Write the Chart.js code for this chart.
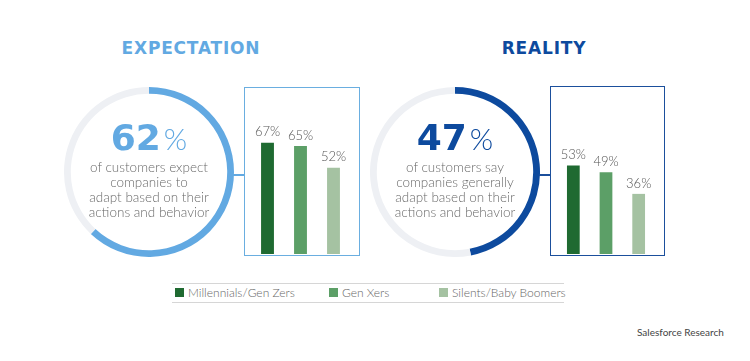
<!DOCTYPE html>
<html>
<head>
<meta charset="utf-8">
<script src="https://cdn.jsdelivr.net/npm/chart.js@4"></script>
<style>
  body { margin: 0; background: #fff; }
  #page { position: relative; width: 750px; height: 361px; overflow: hidden; font-family: Lato, "Open Sans", sans-serif; }
  .abs { position: absolute; }
  .title { font-family: "DejaVu Sans", sans-serif; font-weight: bold; font-size: 17px; letter-spacing: 0.8px; text-align: center; width: 200px; }
  .center { text-align: center; width: 170px; color: #6a6a6a; font-size: 13.5px; font-weight: 300; line-height: 15px; }
  .big { font-family: "DejaVu Sans", sans-serif; font-weight: bold; font-size: 36px; line-height: 38px; margin-bottom: 3px; }
  .big span { font-family: Lato, sans-serif; font-weight: 300; font-size: 30px; margin-left: 3px; }
  .box { box-sizing: border-box; border: 1.5px solid; }
  .legend { font-size: 12px; color: #666; font-weight: 300; }
  .sw { width: 9px; height: 9px; }
</style>
</head>
<body>
<div id="page">
  <div class="abs title" style="left:91px; top:38px; color:#62a9e2;">EXPECTATION</div>
  <div class="abs title" style="left:444px; top:38px; color:#0d4a9e;">REALITY</div>

  <canvas id="donut1" class="abs" width="170" height="170" style="left:64px; top:87px;"></canvas>
  <canvas id="donut2" class="abs" width="170" height="170" style="left:370px; top:87px;"></canvas>

  <div class="abs center" style="left:64px; top:119px;">
    <div class="big" style="color:#62a9e2;">62<span>%</span></div>
    <div>of customers expect<br>companies to<br>adapt based on their<br>actions and behavior</div>
  </div>
  <div class="abs center" style="left:370px; top:119px;">
    <div class="big" style="color:#0d4a9e;">47<span>%</span></div>
    <div>of customers say<br>companies generally<br>adapt based on their<br>actions and behavior</div>
  </div>

  <div class="abs" style="left:233px; top:174px; width:11px; height:1.5px; background:#62a9e2;"></div>
  <div class="abs" style="left:539px; top:174px; width:11px; height:1.5px; background:#1b4f9c;"></div>

  <div class="abs box" style="left:244px; top:87px; width:116px; height:169px; border-color:#6aaee0;">
    <canvas id="bars1" width="113" height="166"></canvas>
  </div>
  <div class="abs box" style="left:550px; top:86px; width:115px; height:170px; border-color:#1b4f9c;">
    <canvas id="bars2" width="112" height="167"></canvas>
  </div>

  <div class="abs" style="left:172px; top:283px; width:392px; height:1px; background:#d6d6d6;"></div>
  <div class="abs" style="left:172px; top:302px; width:392px; height:1px; background:#d6d6d6;"></div>
  <div id="legend"></div>

  <div class="abs" style="left:637px; top:326px; font-size:10px; color:#444;">Salesforce Research</div>
</div>
<script>
var generations = ['Millennials/Gen Zers', 'Gen Xers', 'Silents/Baby Boomers'];
var genColors = ['#1f6a31', '#5c9f67', '#a5c2a2'];
var expectationValues = [67, 65, 52];
var realityValues = [53, 49, 36];
var expectationShare = [62, 38];
var realityShare = [47, 53];

function makeDonut(id, values, color) {
  new Chart(document.getElementById(id), {
    type: 'doughnut',
    data: {
      labels: ['yes', 'rest'],
      datasets: [{ data: values, backgroundColor: [color, '#eef0f4'], borderWidth: 0, hoverOffset: 0 }]
    },
    options: {
      responsive: false,
      animation: false,
      events: [],
      cutout: '92%',
      plugins: { legend: { display: false }, tooltip: { enabled: false } }
    }
  });
}

// draws "67%" above each bar
var valueLabels = {
  id: 'valueLabels',
  afterDatasetsDraw(chart) {
    var ctx = chart.ctx;
    var meta = chart.getDatasetMeta(0);
    ctx.save();
    ctx.font = '300 13px Lato';
    ctx.fillStyle = '#555';
    ctx.textAlign = 'center';
    ctx.textBaseline = 'bottom';
    meta.data.forEach(function (bar, i) {
      ctx.fillText(chart.data.datasets[0].data[i] + '%', bar.x, bar.y - 4);
    });
    ctx.restore();
  }
};

function makeBars(id, values) {
  new Chart(document.getElementById(id), {
    type: 'bar',
    data: {
      labels: generations,
      datasets: [{ data: values, backgroundColor: genColors, barPercentage: 0.39, categoryPercentage: 1 }]
    },
    options: {
      responsive: false,
      animation: false,
      events: [],
      layout: { padding: { left: 6, right: 8, top: 0, bottom: 0 } },
      scales: {
        x: { display: false },
        y: { display: false, min: 0, max: 100 }
      },
      plugins: { legend: { display: false }, tooltip: { enabled: false } }
    },
    plugins: [valueLabels]
  });
}

makeDonut('donut1', expectationShare, '#62a9e2');
makeDonut('donut2', realityShare, '#0d4a9e');
makeBars('bars1', expectationValues);
makeBars('bars2', realityValues);

// shared legend under both charts
var legendX = [175, 329, 439];
var legend = document.getElementById('legend');
generations.forEach(function (g, i) {
  var sw = document.createElement('div');
  sw.className = 'abs sw';
  sw.style.left = legendX[i] + 'px';
  sw.style.top = '288px';
  sw.style.background = genColors[i];
  legend.appendChild(sw);
  var t = document.createElement('div');
  t.className = 'abs legend';
  t.style.left = (legendX[i] + 13) + 'px';
  t.style.top = '285px';
  t.textContent = g;
  legend.appendChild(t);
});
</script>
</body>
</html>
